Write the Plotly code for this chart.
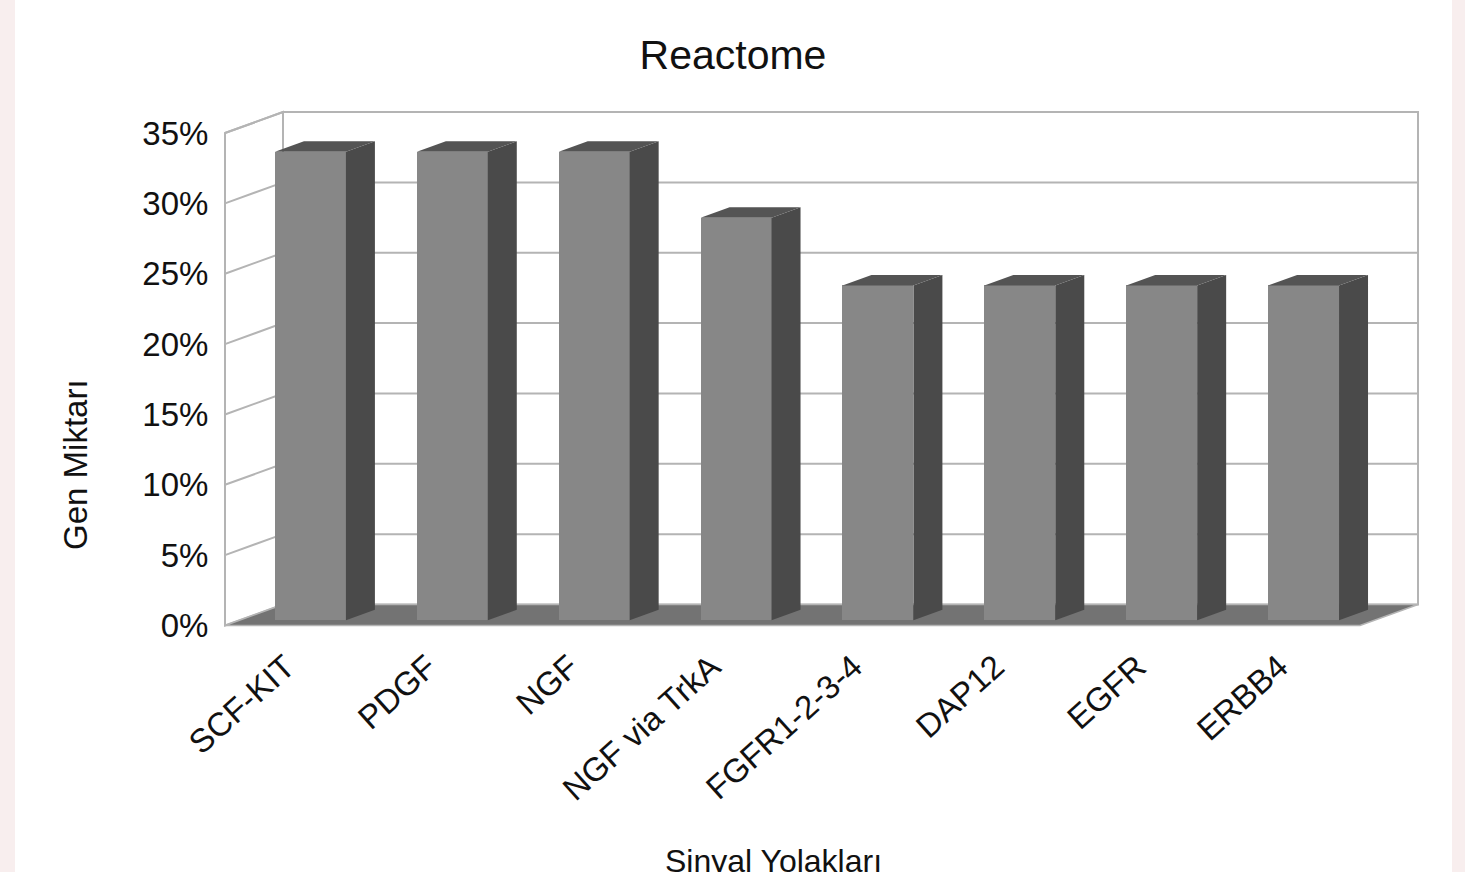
import plotly.graph_objects as go

# ---- data -------------------------------------------------------------
categories = ["SCF-KIT", "PDGF", "NGF", "NGF via TrkA",
              "FGFR1-2-3-4", "DAP12", "EGFR", "ERBB4"]
gene_share = [33.3, 33.3, 33.3, 28.6, 23.8, 23.8, 23.8, 23.8]  # percent
y_ticks = [0, 5, 10, 15, 20, 25, 30, 35]
y_tick_labels = [f"{t}%" for t in y_ticks]

# ---- oblique 3-D projection (in axis units) ---------------------------
DEPTH_X = 0.4088   # sideways shift of the box back plane, category units
DEPTH_Y = 1.4925   # upward shift of the box back plane, percent units
BAR_FRONT, BAR_BACK = 0.25, 0.75   # bar depth inside the box
BAR_WIDTH = 0.5
Y_TOP = y_ticks[-1]
N = len(categories)

FONT = "Liberation Sans, Arial, sans-serif"
INK = "#111111"
WALL_LINE = "#b4b4b4"
FRONT_C, SIDE_C, TOP_C, FLOOR_C = "#878787", "#4a4a4a", "#545454", "#737373"


def proj(x, v, d):
    return x + DEPTH_X * d, v + DEPTH_Y * d


def path(points):
    return "M " + " L ".join(f"{x},{y}" for x, y in points) + " Z"


shapes = []
# page frame: white sheet on a pale background
shapes.append(dict(type="rect", xref="paper", yref="paper", layer="below",
                   x0=-0.1704, x1=1.0182, y0=-0.45, y1=1.2,
                   fillcolor="white", line=dict(width=0)))

# back wall
bl = proj(0, 0, 1); tr = proj(N, Y_TOP, 1)
shapes.append(dict(type="rect", xref="x", yref="y", layer="below",
                   x0=bl[0], y0=bl[1], x1=tr[0], y1=tr[1],
                   fillcolor="white", line=dict(color=WALL_LINE, width=2)))
# left wall
shapes.append(dict(type="path", xref="x", yref="y", layer="below",
                   path=path([proj(0, 0, 0), proj(0, Y_TOP, 0),
                              proj(0, Y_TOP, 1), proj(0, 0, 1)]),
                   fillcolor="white", line=dict(color=WALL_LINE, width=2)))
# grid lines on both walls
for t in y_ticks[1:]:
    a = proj(0, t, 0); b = proj(0, t, 1); c = proj(N, t, 1)
    shapes.append(dict(type="path", xref="x", yref="y", layer="below",
                       path=f"M {a[0]},{a[1]} L {b[0]},{b[1]} L {c[0]},{c[1]}",
                       line=dict(color=WALL_LINE, width=2)))
# floor
shapes.append(dict(type="path", xref="x", yref="y", layer="below",
                   path=path([proj(0, 0, 0), proj(N, 0, 0),
                              proj(N, 0, 1), proj(0, 0, 1)]),
                   fillcolor=FLOOR_C, line=dict(color=WALL_LINE, width=1.5)))

fig = go.Figure()

# bar fronts
x0_front, base_front = proj(0, 0, BAR_FRONT)
fig.add_trace(go.Bar(
    x=[i + 0.5 + x0_front for i in range(N)],
    y=gene_share,
    base=base_front,
    width=BAR_WIDTH,
    marker=dict(color=FRONT_C, line=dict(width=0)),
    customdata=categories,
    hovertemplate="%{customdata}: %{y}%<extra></extra>",
    showlegend=False,
))

# bar sides and tops
side_x, side_y, top_x, top_y = [], [], [], []
for i, v in enumerate(gene_share):
    xl = i + 0.5 - BAR_WIDTH / 2
    xr = i + 0.5 + BAR_WIDTH / 2
    pts_side = [proj(xr, 0, BAR_FRONT), proj(xr, v, BAR_FRONT),
                proj(xr, v, BAR_BACK), proj(xr, 0, BAR_BACK),
                proj(xr, 0, BAR_FRONT)]
    pts_top = [proj(xl, v, BAR_FRONT), proj(xr, v, BAR_FRONT),
               proj(xr, v, BAR_BACK), proj(xl, v, BAR_BACK),
               proj(xl, v, BAR_FRONT)]
    for p in pts_side:
        side_x.append(p[0]); side_y.append(p[1])
    side_x.append(None); side_y.append(None)
    for p in pts_top:
        top_x.append(p[0]); top_y.append(p[1])
    top_x.append(None); top_y.append(None)

fig.add_trace(go.Scatter(x=side_x, y=side_y, mode="lines", fill="toself",
                         fillcolor=SIDE_C, line=dict(width=0, color=SIDE_C),
                         hoverinfo="skip", showlegend=False))
fig.add_trace(go.Scatter(x=top_x, y=top_y, mode="lines", fill="toself",
                         fillcolor=TOP_C, line=dict(width=0, color=TOP_C),
                         hoverinfo="skip", showlegend=False))

fig.update_layout(
    width=1465, height=872,
    margin=dict(l=221, r=35, t=100, b=232),
    paper_bgcolor="#f8eeee",
    plot_bgcolor="white",
    font=dict(family=FONT, color=INK),
    title=dict(text="Reactome", x=0.4235, xref="paper", xanchor="center",
               y=0.937, yref="container", yanchor="middle",
               font=dict(size=41, family=FONT, color=INK)),
    shapes=shapes,
    showlegend=False,
    bargap=0,
    annotations=[
        dict(text="Gen Miktarı", xref="paper", yref="paper",
             x=-0.1208, y=0.3259, textangle=-90, showarrow=False,
             xanchor="center", yanchor="middle",
             font=dict(size=33, family=FONT, color=INK)),
        dict(text="Sinyal Yolakları", xref="paper", yref="paper",
             x=0.4574, y=-0.4093, showarrow=False,
             xanchor="center", yanchor="middle",
             font=dict(size=32, family=FONT, color=INK)),
    ],
)

fig.update_xaxes(
    range=[-4 / 141.875, 1205 / 141.875],
    tickvals=[i + 0.5 for i in range(N)], ticktext=categories,
    tickangle=-42, tickfont=dict(size=33, family=FONT, color=INK),
    ticklabelshift=-10,
    showgrid=False, zeroline=False, showline=False, ticks="",
    automargin=False, fixedrange=True,
)
fig.update_yaxes(
    range=[-14.5 / 14.07, 525.5 / 14.07],
    tickvals=y_ticks, ticktext=y_tick_labels,
    tickfont=dict(size=33, family=FONT, color=INK),
    ticks="outside", ticklen=5, tickcolor="rgba(0,0,0,0)",
    showgrid=False, zeroline=False, showline=False,
    automargin=False, fixedrange=True,
)

fig.write_html("out.html")
